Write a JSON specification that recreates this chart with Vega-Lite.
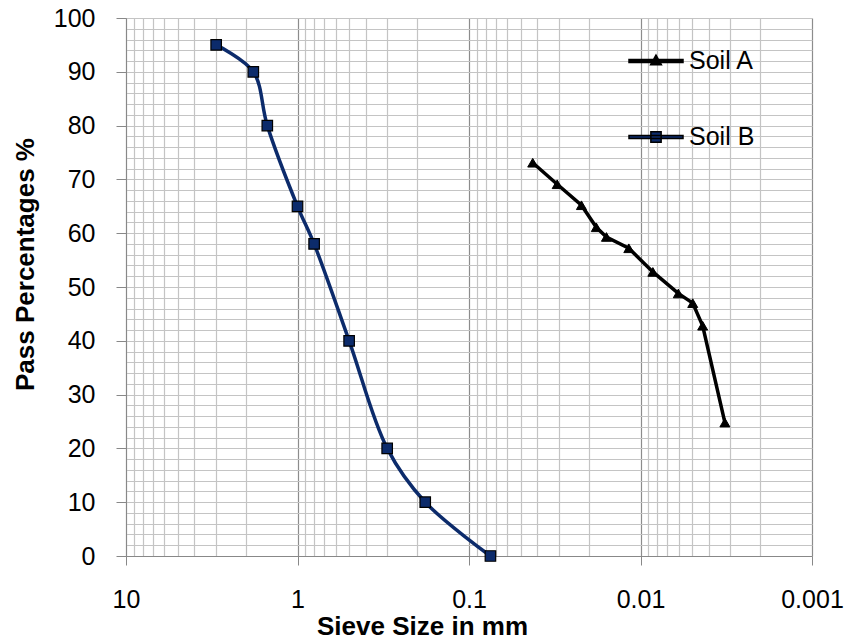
{
  "$schema": "https://vega.github.io/schema/vega-lite/v6.json",
  "width": 686,
  "height": 538,
  "autosize": {"type": "none"},
  "padding": {"left": 126, "top": 18, "right": 41, "bottom": 85},
  "background": "white",
  "config": {
    "view": {"stroke": null},
    "font": "Liberation Sans"
  },
  "data": {
    "values": [
      {"series": "Soil A", "size": 0.0425, "pass": 73.1},
      {"series": "Soil A", "size": 0.0306, "pass": 69.1},
      {"series": "Soil A", "size": 0.0221, "pass": 65.2},
      {"series": "Soil A", "size": 0.0181, "pass": 61.1},
      {"series": "Soil A", "size": 0.0158, "pass": 59.3},
      {"series": "Soil A", "size": 0.0117, "pass": 57.2},
      {"series": "Soil A", "size": 0.00847, "pass": 52.8},
      {"series": "Soil A", "size": 0.00602, "pass": 48.8},
      {"series": "Soil A", "size": 0.00496, "pass": 47.0},
      {"series": "Soil A", "size": 0.00434, "pass": 42.8},
      {"series": "Soil A", "size": 0.00322, "pass": 24.8},
      {"series": "Soil B", "size": 2.98, "pass": 95},
      {"series": "Soil B", "size": 1.81, "pass": 90},
      {"series": "Soil B", "size": 1.5, "pass": 80},
      {"series": "Soil B", "size": 1.0, "pass": 65},
      {"series": "Soil B", "size": 0.8, "pass": 58},
      {"series": "Soil B", "size": 0.5, "pass": 40},
      {"series": "Soil B", "size": 0.3, "pass": 20},
      {"series": "Soil B", "size": 0.18, "pass": 10},
      {"series": "Soil B", "size": 0.075, "pass": 0}
    ]
  },
  "encoding": {
    "x": {
      "field": "size",
      "type": "quantitative",
      "scale": {"type": "log", "domain": [0.001, 10], "reverse": true, "nice": false},
      "axis": {
        "title": "Sieve Size in mm",
        "titleFont": "Liberation Sans",
        "titleFontSize": 26,
        "titleFontWeight": "bold",
        "titleColor": "black",
        "titleBaseline": "alphabetic",
        "titleAlign": "center",
        "titleX": 296,
        "titleY": 78,
        "values": [0.001,0.002,0.003,0.004,0.005,0.006,0.007,0.008,0.009,0.01,0.02,0.03,0.04,0.05,0.06,0.07,0.08,0.09,0.1,0.2,0.3,0.4,0.5,0.6,0.7,0.8,0.9,1,2,3,4,5,6,7,8,9,10],
        "labelExpr": "abs(log(datum.value)/LN10 - round(log(datum.value)/LN10)) < 1e-6 ? format(datum.value, '~g') : ''",
        "labelFontSize": 25,
        "labelColor": "black",
        "labelBaseline": "alphabetic",
        "labelPadding": 42,
        "labelFlush": false,
        "labelOverlap": false,
        "tickSize": 9,
        "tickColor": "#888888",
        "tickOpacity": {"condition": {"test": "abs(log(datum.value)/LN10 - round(log(datum.value)/LN10)) < 1e-6", "value": 1}, "value": 0},
        "domainColor": "#888888",
        "grid": true,
        "gridColor": {"condition": {"test": "abs(log(datum.value)/LN10 - round(log(datum.value)/LN10)) < 1e-6", "value": "#8c8c8c"}, "value": "#c4c4c4"},
        "gridWidth": 1.2
      }
    },
    "y": {
      "field": "pass",
      "type": "quantitative",
      "scale": {"domain": [0, 100], "nice": false},
      "axis": {
        "title": "Pass Percentages %",
        "titleFont": "Liberation Sans",
        "titleFontSize": 26,
        "titleFontWeight": "bold",
        "titleColor": "black",
        "titleBaseline": "alphabetic",
        "titleAngle": -90,
        "titleAlign": "center",
        "titleX": -93,
        "titleY": 246,
        "values": [0,2,4,6,8,10,12,14,16,18,20,22,24,26,28,30,32,34,36,38,40,42,44,46,48,50,52,54,56,58,60,62,64,66,68,70,72,74,76,78,80,82,84,86,88,90,92,94,96,98,100],
        "labelExpr": "datum.value % 10 === 0 ? datum.value : ''",
        "labelFontSize": 25,
        "labelColor": "black",
        "labelPadding": 21,
        "labelFlush": false,
        "labelOverlap": false,
        "tickSize": 10,
        "tickColor": "#888888",
        "tickOpacity": {"condition": {"test": "datum.value % 10 === 0", "value": 1}, "value": 0},
        "domainColor": "#888888",
        "grid": true,
        "gridColor": "#c4c4c4",
        "gridWidth": 1.2
      }
    }
  },
  "layer": [
    {
      "transform": [{"filter": "datum.series === 'Soil B'"}],
      "mark": {"type": "line", "interpolate": "catmull-rom", "color": "#0c2b6b", "strokeWidth": 3.5},
      "encoding": {}
    },
    {
      "transform": [{"filter": "datum.series === 'Soil A'"}],
      "mark": {"type": "line", "interpolate": "linear", "color": "black", "strokeWidth": 3.5},
      "encoding": {}
    },
    {
      "transform": [{"filter": "datum.series === 'Soil A'"}],
      "mark": {"type": "point", "shape": "triangle-up", "size": 100, "filled": true, "opacity": 1, "stroke": "black", "strokeWidth": 1},
      "encoding": {
        "color": {
          "field": "series",
          "type": "nominal",
          "scale": {"domain": ["Soil A", "Soil B"], "range": ["black", "#0c2b6b"]},
          "legend": {
            "title": null,
            "orient": "none",
            "legendX": 502,
            "legendY": 15,
            "padding": 0,
            "symbolSize": 2916,
            "symbolType": {"expr": "datum.value === 'Soil A' ? 'M-1,-0.06 L1,-0.06 L1,0.06 L-1,0.06 Z M0,-0.22 L0.2,0.14 L-0.2,0.14 Z' : 'M-1,-0.06 L1,-0.06 L1,0.06 L-1,0.06 Z M-0.19,-0.19 L0.19,-0.19 L0.19,0.19 L-0.19,0.19 Z'"},
            "rowPadding": 35,
            "labelOffset": 5,
            "labelFontSize": 25,
            "labelColor": "black",
            "labelFont": "Liberation Sans",
            "encode": {
              "symbols": {
                "update": {
                  "size": {"value": 2916},
                  "strokeWidth": {"value": 0},
                  "opacity": {"value": 1}
                }
              }
            }
          }
        }
      }
    },
    {
      "transform": [{"filter": "datum.series === 'Soil B'"}],
      "mark": {"type": "point", "shape": "square", "size": 110, "filled": true, "opacity": 1, "stroke": "black", "strokeWidth": 1.2},
      "encoding": {
        "color": {"field": "series", "type": "nominal"}
      }
    }
  ]
}
